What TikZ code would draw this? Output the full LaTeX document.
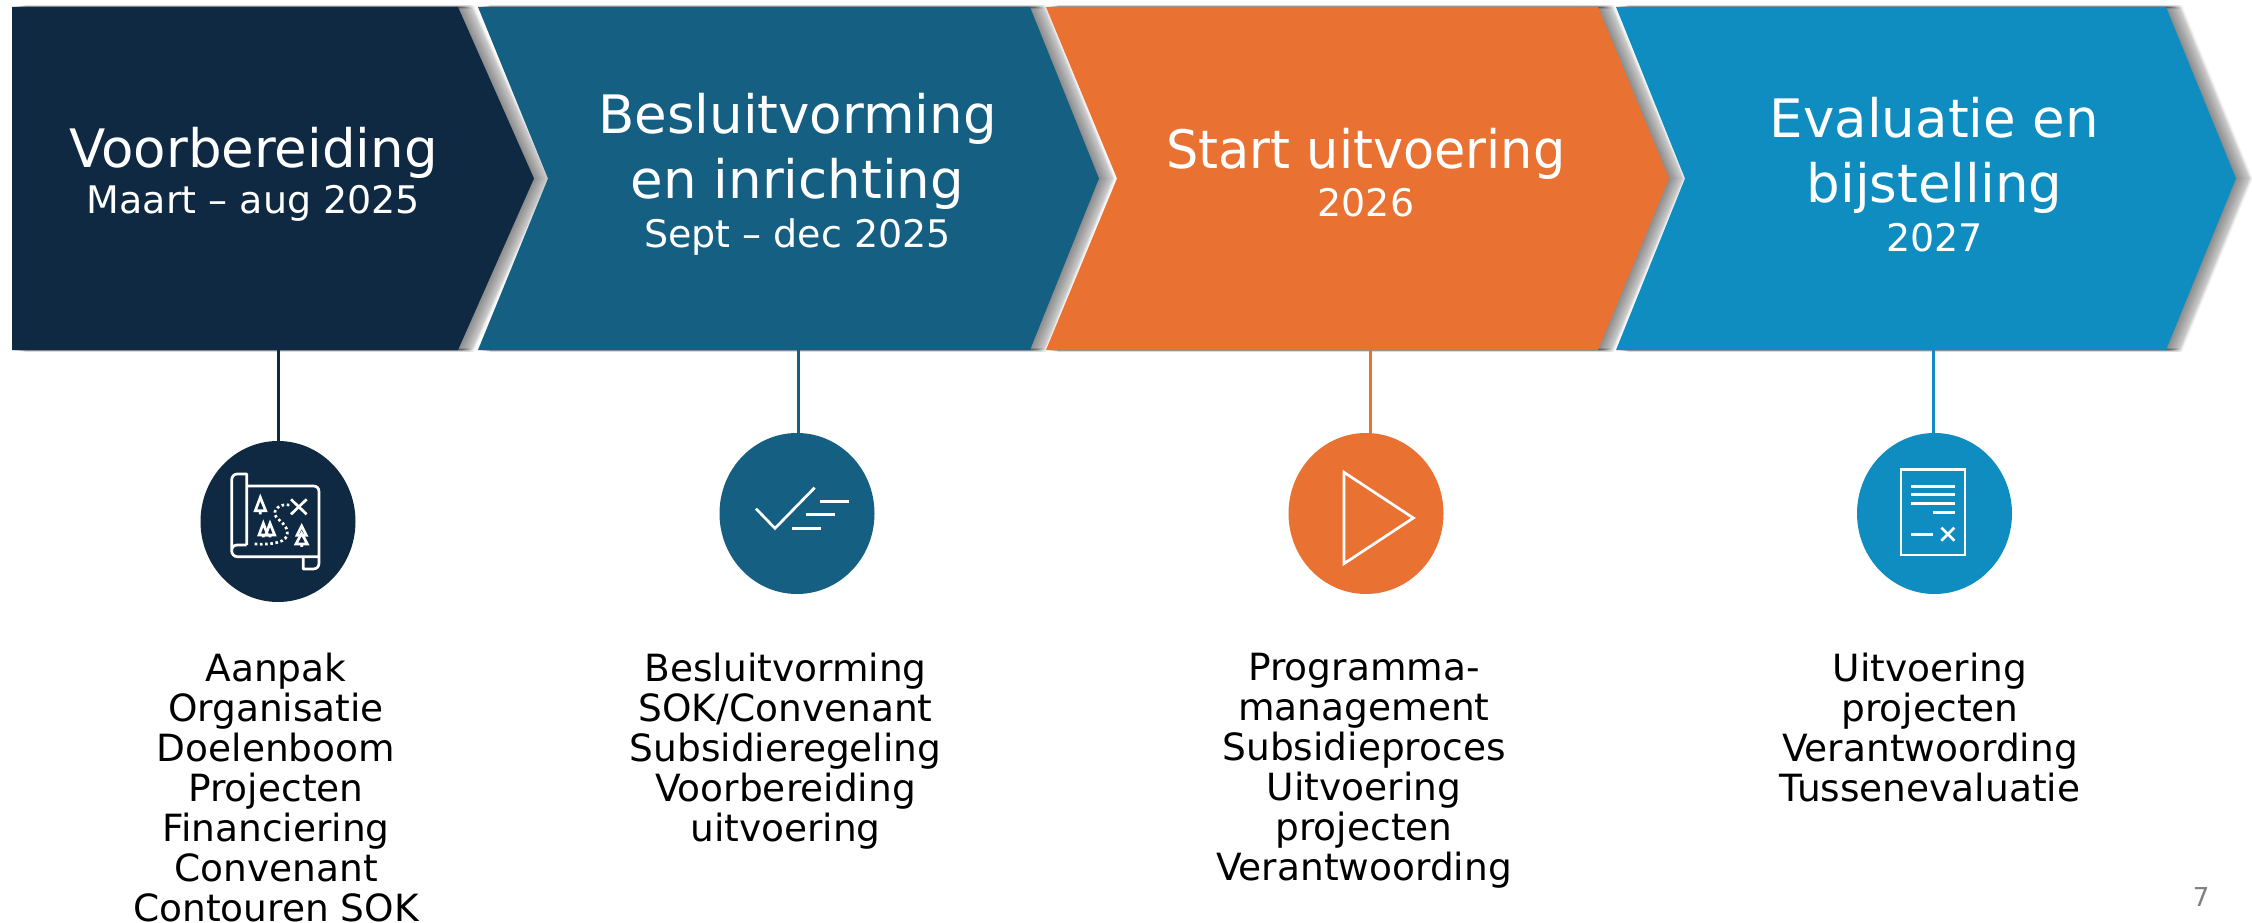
\documentclass[tikz,border=0pt]{standalone}
\usepackage{fontspec}
\setmainfont{DejaVu Sans}
\usetikzlibrary{shapes.geometric}
\definecolor{cnavy}{HTML}{0F2942}
\definecolor{cteal}{HTML}{156082}
\definecolor{corange}{HTML}{E97132}
\definecolor{cblue}{HTML}{0F8DC1}
\newcommand{\chevronshape}[5]{% left, notch, topright, tip, colour
  \foreach \i in {1,...,15}{
    \fill[black,opacity=0.036,shift={(\i pt,0)},draw=black,line width=0.25*\i pt]
      (#1,7) -- (#3,7) -- (#4,178.5) -- (#3,350) -- (#1,350) -- (#2,178.5) -- cycle;
  }
  \fill[#5] (#1,7) -- (#3,7) -- (#4,178.5) -- (#3,350) -- (#1,350) -- (#2,178.5) -- cycle;
}
\tikzset{
  head/.style={text=white,align=center,inner sep=0pt,font=\fontsize{53}{65}\selectfont},
  disc/.style={ellipse,inner sep=0pt,minimum width=155pt,minimum height=161pt},
  link/.style={line width=3pt},
  items/.style={text=black,align=center,anchor=north,inner sep=0pt,font=\fontsize{37.5}{40}\selectfont},
  glyph/.style={draw=white,line width=2.7pt,line cap=butt,line join=miter},
  cropscale/.style={x=0.3333pt,y=-0.3333pt}
}
\newcommand{\sublabel}[1]{{\fontsize{38}{50}\selectfont #1}}
\begin{document}
\begin{tikzpicture}[x=1pt,y=-1pt]
\useasboundingbox (0,0) rectangle (2252,923);
\fill[white] (0,0) rectangle (2252,923);

% chevrons
\chevronshape{12}{12}{458}{534}{cnavy}
\chevronshape{478}{548}{1030}{1099}{cteal}
\chevronshape{1046}{1117}{1598}{1669}{corange}
\chevronshape{1616}{1685}{2166}{2236}{cblue}

\coordinate (b1) at (278,350);
\coordinate (b2) at (798,350);
\coordinate (b3) at (1370,350);
\coordinate (b4) at (1933,350);

% discs
\node[disc,fill=cnavy] (d1) at (278,521.5) {};
\node[disc,fill=cteal] (d2) at (797,513.5) {};
\node[disc,fill=corange] (d3) at (1366,513.5) {};
\node[disc,fill=cblue] (d4) at (1934.5,513.5) {};

% connectors
\draw[link,draw=cnavy] (b1) -- (b1 |- d1.north);
\draw[link,draw=cteal] (b2) -- (b2 |- d2.north);
\draw[link,draw=corange] (b3) -- (b3 |- d3.north);
\draw[link,draw=cblue] (b4) -- (b4 |- d4.north);

% chevron headings
\node[head] (h1) at (253.5,174) {Voorbereiding\\[-19pt]\sublabel{Maart – aug 2025}};
\node[head] (h2) at (797.5,174.5) {Besluitvorming\\en inrichting\\[-16pt]\sublabel{Sept – dec 2025}};
\node[head,xscale=0.96] (h3) at (1366,172.75) {Start uitvoering\\[-17.5pt]\sublabel{\scalebox{1.04}[1]{2026}}};
\node[head] (h4) at (1934.5,174.5) {Evaluatie en\\bijstelling\\[-16pt]\sublabel{2027}};

% item lists
\node[items] (t1) at (276,653) {Aanpak\\Organisatie\\Doelenboom\\Projecten\\Financiering\\Convenant\\Contouren SOK};
\node[items] (t2) at (785.5,653) {Besluitvorming\\SOK/Convenant\\Subsidieregeling\\Voorbereiding\\uitvoering};
\node[items] (t3) at (1364,653) {Programma-\\management\\Subsidieproces\\Uitvoering\\projecten\\Verantwoording};
\node[items] (t4) at (1930,653) {Uitvoering\\projecten\\Verantwoording\\Tussenevaluatie};

% page number
\node[text=black!50,inner sep=0pt,font=\fontsize{26}{30}\selectfont] (pg) at (2201,897) {7};

% map icon
\begin{scope}[shift={(150,420)},cropscale]
  \draw[glyph,line join=round] (290,198) -- (490,198) .. controls (501,198) and (507,205) .. (507,215)
    -- (507,430) .. controls (507,440) and (500,447) .. (490,447) -- (460,447) -- (460,410);
  \draw[glyph,line join=round] (290,375) -- (262,375) .. controls (252,375) and (245,382) .. (245,392)
    -- (245,180) .. controls (245,170) and (252,162) .. (262,162) -- (290,162) -- (290,375);
  \draw[glyph] (245,392) .. controls (245,402) and (252,410) .. (262,410) -- (460,410) -- (507,410);
  \draw[glyph] (423,238) -- (470,283) (470,238) -- (423,283);
  \draw[glyph,dash pattern=on 2.6pt off 2.6pt]
    (418,255) .. controls (390,250) and (365,270) .. (378,290)
    .. controls (390,305) and (412,315) .. (412,340)
    .. controls (412,365) and (375,375) .. (313,372);
  \draw[glyph] (331,232) -- (316,272) -- (347,272) -- cycle (331,272) -- (331,283);
  \draw[glyph] (340,310) -- (327,345) -- (353,345) -- cycle (340,345) -- (340,352);
  \draw[glyph] (360,310) -- (347,345) -- (374,345) -- cycle (360,345) -- (360,352);
  \draw[glyph] (455,318) -- (441,346) -- (469,346) -- cycle;
  \draw[glyph] (455,340) -- (438,372) -- (472,372) -- cycle (455,372) -- (455,381);
\end{scope}

% check icon
\begin{scope}[shift={(680,420)},cropscale]
  \draw[glyph] (228,266) -- (285,325) -- (404,203);
  \draw[glyph,line width=2.8pt] (420,244) -- (507,244) (378,283) -- (465,283) (337,325) -- (423,325);
\end{scope}

% play icon
\begin{scope}[shift={(1260,420)},cropscale]
  \draw[glyph] (252,157) -- (460,294) -- (252,431) -- cycle;
\end{scope}

% document icon
\begin{scope}[shift={(1830,420)},cropscale]
  \draw[glyph] (213,148) rectangle (405,405);
  \draw[glyph,line width=2.8pt] (243,199) -- (375,199) (243,223) -- (375,223) (243,250) -- (375,250)
    (309,277) -- (375,277) (243,343) -- (309,343);
  \draw[glyph] (334,323) -- (373,362) (373,323) -- (334,362);
\end{scope}
\end{tikzpicture}
\end{document}
